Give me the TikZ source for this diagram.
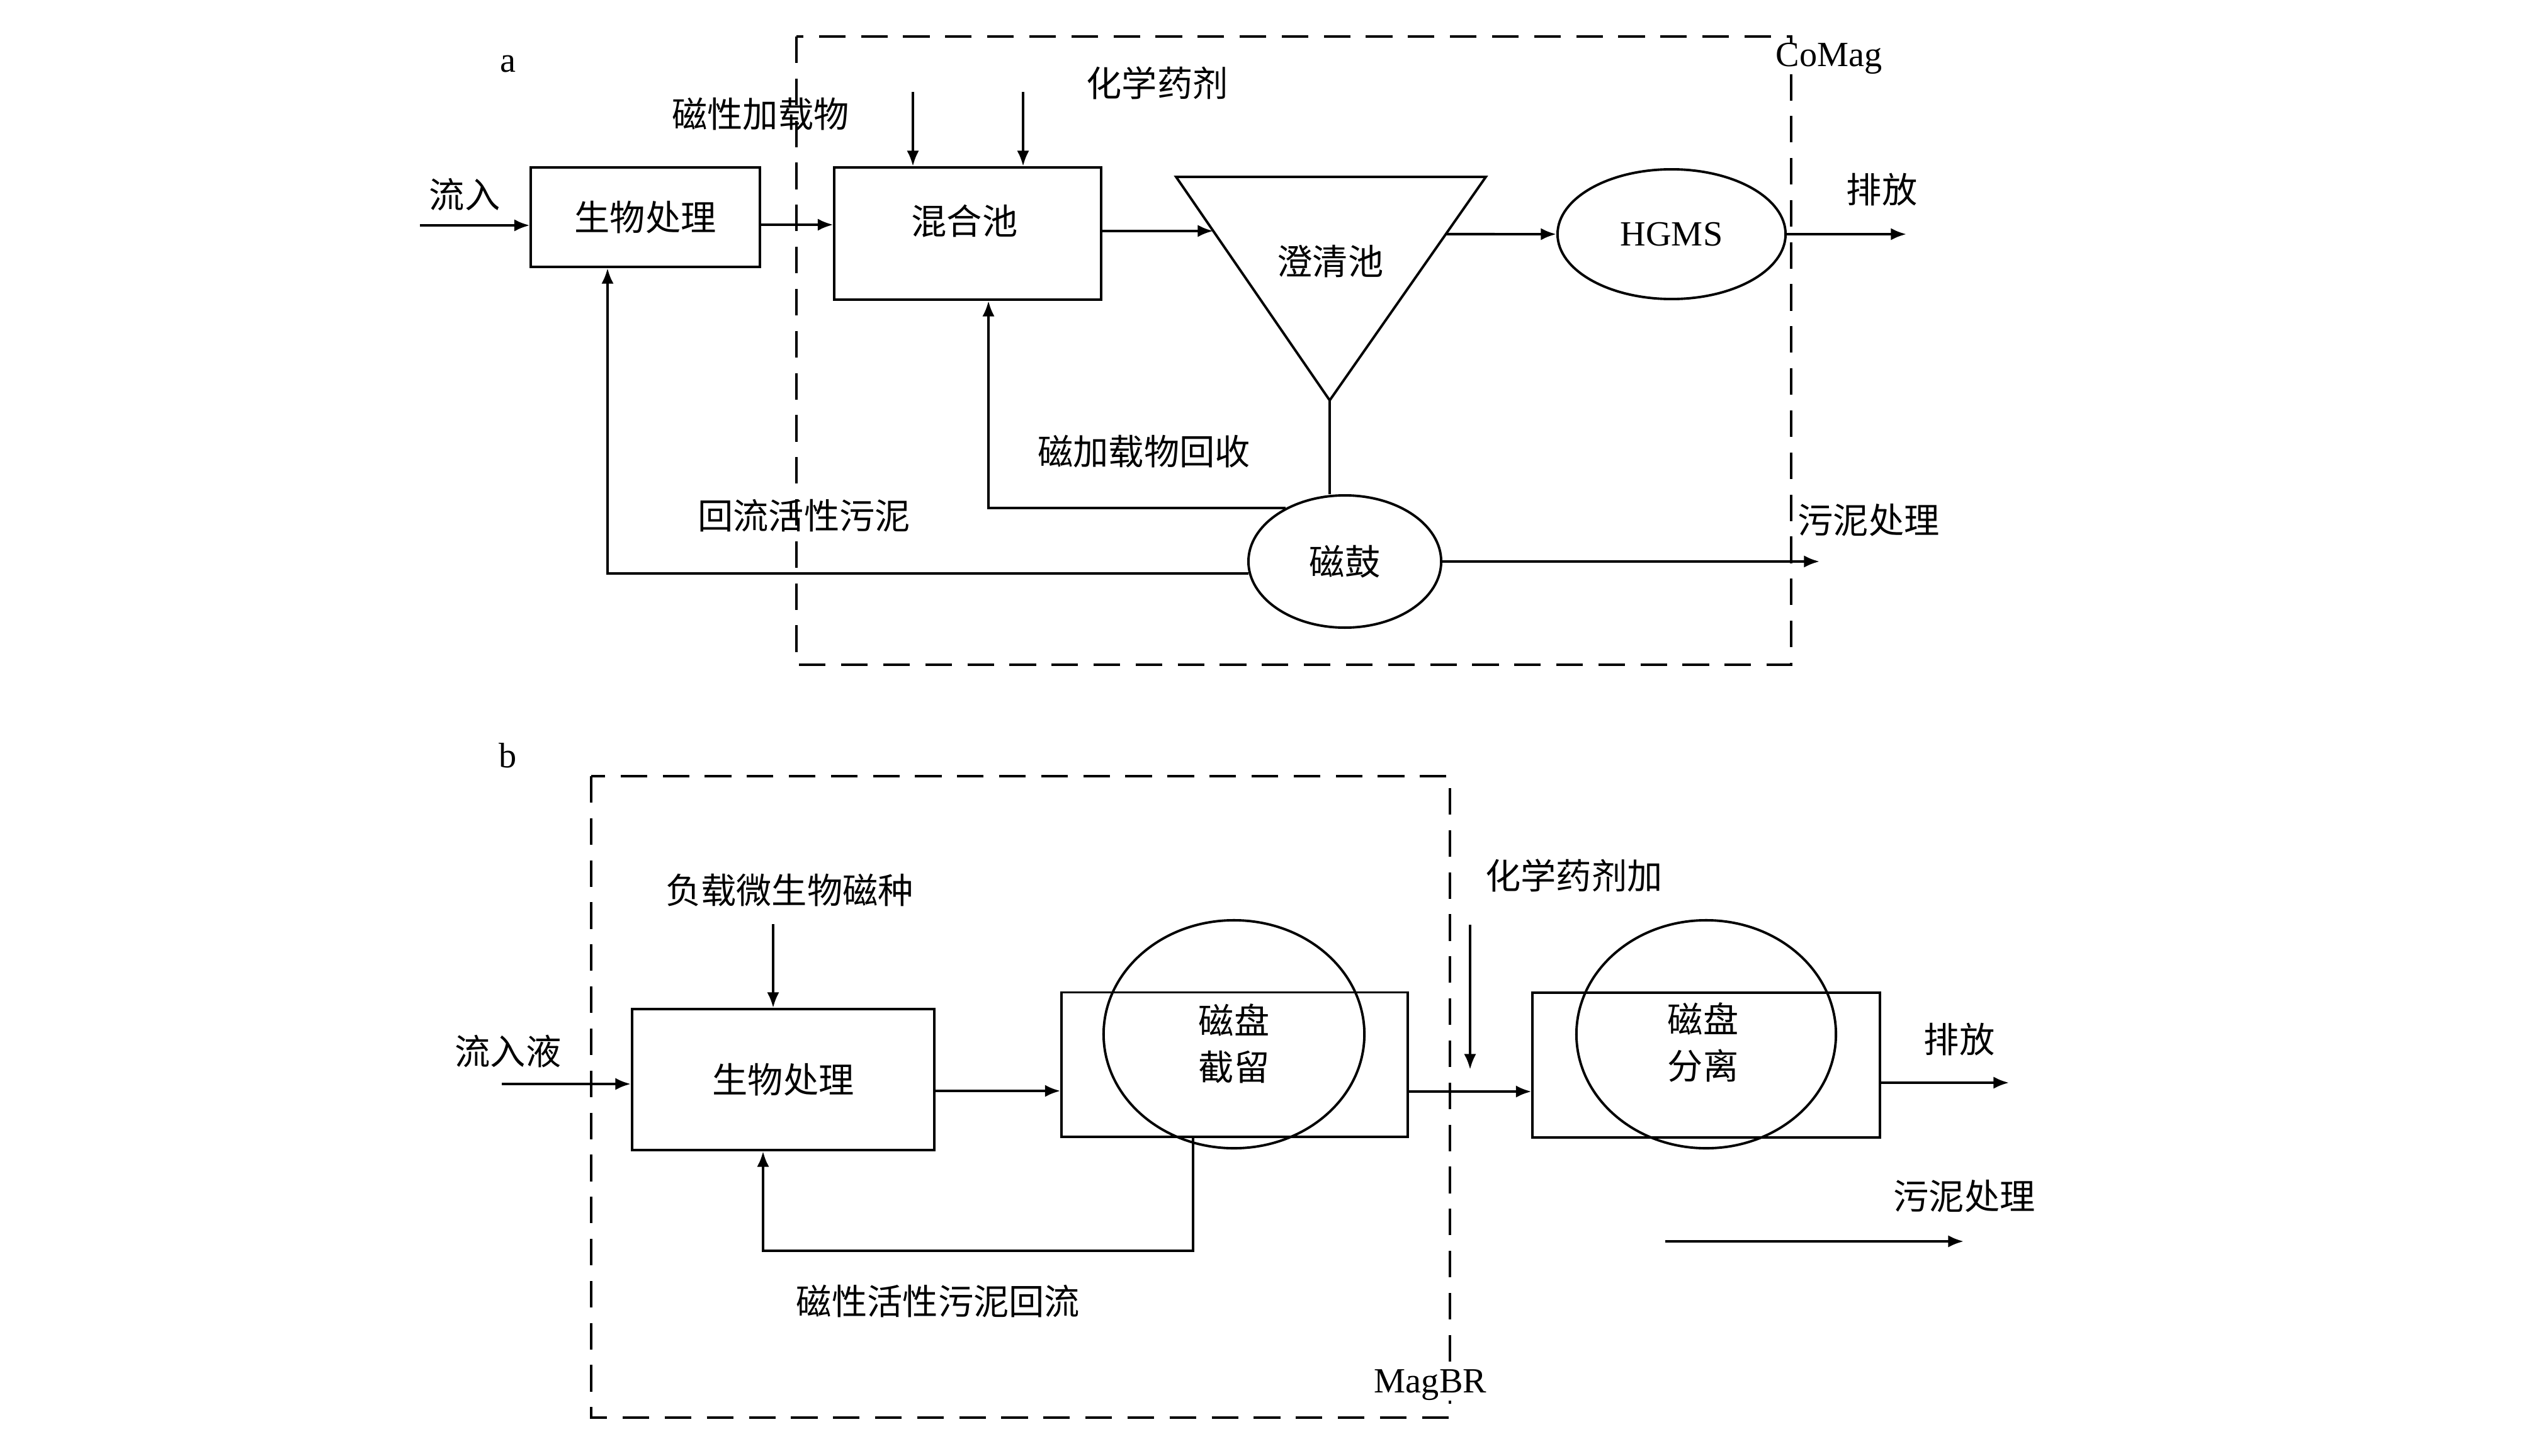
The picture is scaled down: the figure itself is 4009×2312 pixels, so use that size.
\documentclass[tikz,border=0pt]{standalone}
\usepackage{fontspec}
\setmainfont{Liberation Serif}
\newfontfamily\cjk{Noto Sans CJK SC}
\usetikzlibrary{shapes.geometric,arrows.meta,calc}
\begin{document}
\begin{tikzpicture}[x=0.01cm,y=-0.01cm,
  line width=1.1pt,
  arr/.style={-{Latex[length=7pt,width=5.5pt]}},
  zh/.style={font=\cjk\fontsize{16}{21}\selectfont, inner sep=1pt},
  en/.style={font=\fontsize{16}{20}\selectfont, inner sep=1pt},
  boxn/.style={draw, rectangle, inner sep=0pt},
  ell/.style={draw, ellipse, inner sep=0pt},
  frame/.style={dash pattern=on 12pt off 7pt, line width=1.1pt}
]
\useasboundingbox[fill=white] (0,0) rectangle (4009,2312);

% ---------------- panel a ----------------
\node[en] (labA) at (807,102) {a};
\draw[frame] (1265,58) rectangle (2845,1056);
\node[en, fill=white, inner sep=0pt] (comag) at (2905,93) {CoMag};

\node[zh, boxn, minimum width=3.63cm, minimum height=1.58cm] (bioA) at (1025,345) {生物处理};
\node[boxn, minimum width=4.23cm, minimum height=2.10cm] (mixA) at (1537,371) {};
\node[zh] (mixAt) at (1532,351) {混合池};
\coordinate (tl) at (1868,281);
\coordinate (tr) at (2360,281);
\coordinate (tap) at (2112,636);
\draw (tl) -- (tr) -- (tap) -- cycle;
\node[zh] (clar) at (2113,415) {澄清池};
\node[en, ell, minimum width=3.62cm, minimum height=2.06cm] (hgms) at (2655,372) {HGMS};
\node[zh, ell, minimum width=3.06cm, minimum height=2.10cm] (drum) at (2136,892) {磁鼓};

\node[zh] (inA) at (738,309) {流入};
\node[zh] (magl) at (1208,181) {磁性加载物};
\node[zh] (chemA) at (1838,132) {化学药剂};
\node[zh] (outA) at (2989,301) {排放};
\node[zh] (recov) at (1817,717) {磁加载物回收};
\node[zh] (rasl) at (1277,819) {回流活性污泥};
\node[zh] (sludA) at (2968,826) {污泥处理};

\coordinate (inAs) at (667,358);
\draw[arr] (inAs) -- (inAs -| bioA.west);
\draw[arr] (bioA.east |- 0,357) -- (mixA.west |- 0,357);
\coordinate (feed1) at (1450,146);
\coordinate (feed2) at (1625,146);
\draw[arr] (feed1) -- (feed1 |- mixA.north);
\draw[arr] (feed2) -- (feed2 |- mixA.north);
\coordinate (tleft) at ($(tl)!0.242!(tap)$);
\draw[arr] (mixA.east |- tleft) -- (tleft);
\coordinate (tright) at ($(tr)!0.256!(tap)$);
\draw[arr] (tright) -- (hgms.west);
\coordinate (outAe) at (3028,372);
\draw[arr] (hgms.east) -- (outAe);
\draw (tap) -- (tap |- drum.north);
\draw[arr] (drum.138) -| ([xshift=0.33cm]mixA.south);
\draw[arr] (drum.187) -| ([xshift=-0.6cm]bioA.south);
\coordinate (sludAe) at (2890,892);
\draw[arr] (drum.east) -- (sludAe);

% ---------------- panel b ----------------
\node[en] (labB) at (807,1200) {b};
\draw[frame] (939,1233) rectangle (2303,2252);
\node[en, fill=white, inner sep=0pt] (magbr) at (2272,2200) {MagBR};

\node[zh] (seedt) at (1254,1414) {负载微生物磁种};
\node[zh, boxn, minimum width=4.80cm, minimum height=2.24cm] (bioB) at (1244,1715) {生物处理};
\node[zh] (inB) at (807,1670) {流入液};
\coordinate (inBs) at (797,1722);
\draw[arr] (inBs) -- (inBs -| bioB.west);
\coordinate (seeds) at (1228,1468);
\draw[arr] (seeds) -- (seeds |- bioB.north);

\node[boxn, minimum width=5.49cm, minimum height=2.29cm] (retB) at (1961,1691) {};
\node[ell, minimum width=4.14cm, minimum height=3.62cm] (retC) at (1960,1643) {};
\node[zh, align=center] (retT) at (1960,1658) {磁盘\\截留};
\draw[arr] (bioB.east |- 0,1733) -- (retB.west |- 0,1733);
\coordinate (retbot) at (1550,1987);
\draw[arr] ([xshift=-0.66cm]retB.south) |- (retbot) -| ([xshift=-0.32cm]bioB.south);
\node[zh] (magrt) at (1490,2067) {磁性活性污泥回流};

\node[zh] (chemB) at (2500,1391) {化学药剂加};
\coordinate (chemBs) at (2335,1469);
\coordinate (chemBe) at (2335,1699);
\draw[arr] (chemBs) -- (chemBe);

\node[boxn, minimum width=5.51cm, minimum height=2.30cm] (sepB) at (2710,1692) {};
\node[ell, minimum width=4.12cm, minimum height=3.62cm] (sepC) at (2710,1643) {};
\node[zh, align=center] (sepT) at (2705,1656) {磁盘\\分离};
\draw[arr] (retB.east |- 0,1734) -- (sepB.west |- 0,1734);
\node[zh] (outB) at (3112,1651) {排放};
\coordinate (outBe) at (3191,1720);
\draw[arr] (sepB.east |- outBe) -- (outBe);
\node[zh] (sludB) at (3120,1900) {污泥处理};
\coordinate (sludBs) at (2645,1972);
\coordinate (sludBe) at (3119,1972);
\draw[arr] (sludBs) -- (sludBe);
\end{tikzpicture}
\end{document}
